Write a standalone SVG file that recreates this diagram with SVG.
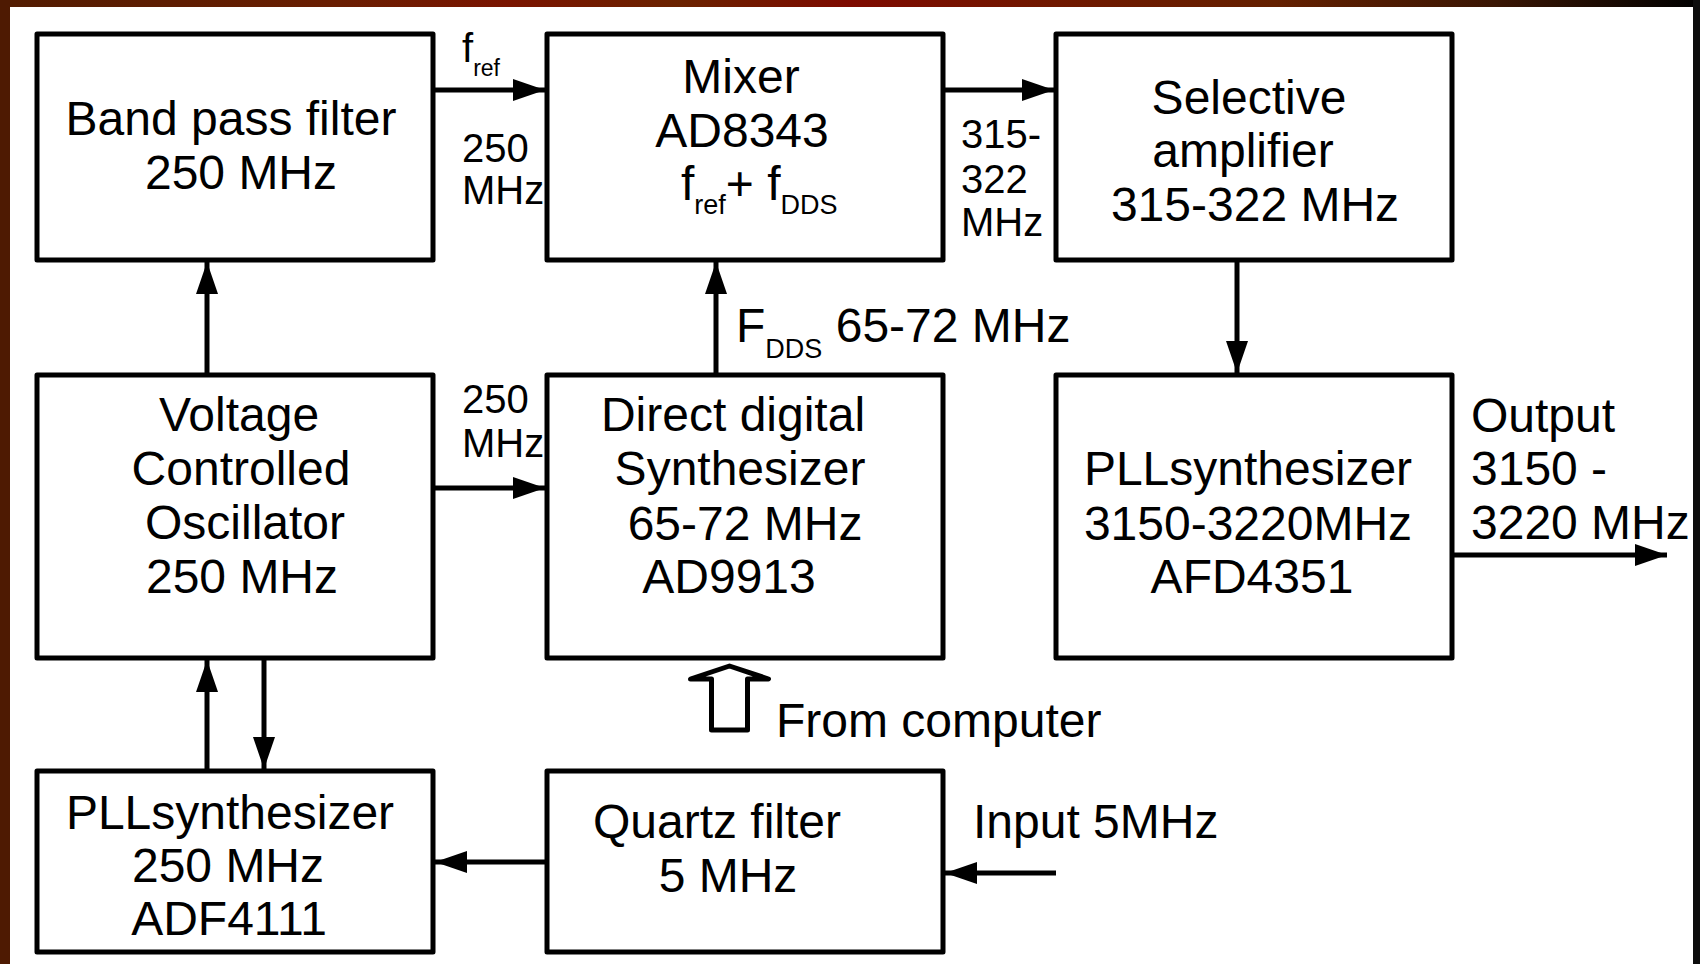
<svg xmlns="http://www.w3.org/2000/svg" width="1700" height="964" viewBox="0 0 1700 964">
<defs>
<linearGradient id="topband" x1="0" y1="0" x2="1" y2="0">
<stop offset="0" stop-color="#521c02"/>
<stop offset="0.2" stop-color="#6a1e02"/>
<stop offset="0.3" stop-color="#7a1400"/>
<stop offset="0.4" stop-color="#6a2200"/>
<stop offset="0.5" stop-color="#7e0a00"/>
<stop offset="0.62" stop-color="#701800"/>
<stop offset="0.75" stop-color="#642000"/>
<stop offset="0.88" stop-color="#3a1604"/>
<stop offset="1" stop-color="#000000"/>
</linearGradient>
<marker id="ah" markerUnits="userSpaceOnUse" markerWidth="34" markerHeight="24" refX="32" refY="11" orient="auto">
<path d="M0,0 L32,11 L0,22 z" fill="#000"/>
</marker>
</defs>
<style>
.box{fill:#fff;stroke:#000;stroke-width:5;stroke-linejoin:round}
.t{font-family:"Liberation Sans",Arial,sans-serif;font-size:48px;fill:#000}
.s{font-family:"Liberation Sans",Arial,sans-serif;font-size:40px;fill:#000}
.c{text-anchor:middle}
.conn{stroke:#000;stroke-width:5;fill:none;marker-end:url(#ah)}
</style>
<rect x="0" y="0" width="1700" height="964" fill="#fff"/>
<rect x="0" y="0" width="1700" height="7" fill="url(#topband)"/>
<rect x="0" y="0" width="10" height="964" fill="#4e1a02"/>
<rect x="1693" y="0" width="7" height="964" fill="#0d0d0d"/>

<g id="bpf">
<rect class="box" x="37" y="34" width="396" height="226"/>
<text class="t c" x="231" y="135">Band pass filter</text>
<text class="t c" x="241" y="189">250 MHz</text>
</g>
<g id="mixer">
<rect class="box" x="547" y="34" width="396" height="226"/>
<text class="t c" x="741" y="93">Mixer</text>
<text class="t c" x="742" y="147">AD8343</text>
<text class="t" x="681" y="200">f<tspan font-size="27" dy="14">ref</tspan><tspan dy="-14">+ f</tspan><tspan font-size="27" dy="14">DDS</tspan></text>
</g>
<g id="selamp">
<rect class="box" x="1056" y="34" width="396" height="226"/>
<text class="t c" x="1249" y="114">Selective</text>
<text class="t c" x="1243" y="167">amplifier</text>
<text class="t c" x="1255" y="221">315-322 MHz</text>
</g>
<g id="vco">
<rect class="box" x="37" y="375" width="396" height="283"/>
<text class="t c" x="239" y="431">Voltage</text>
<text class="t c" x="241" y="485">Controlled</text>
<text class="t c" x="245" y="539">Oscillator</text>
<text class="t c" x="242" y="593">250 MHz</text>
</g>
<g id="dds">
<rect class="box" x="547" y="375" width="396" height="283"/>
<text class="t c" x="733" y="431">Direct digital</text>
<text class="t c" x="740" y="485">Synthesizer</text>
<text class="t c" x="745" y="540">65-72 MHz</text>
<text class="t c" x="729" y="593">AD9913</text>
</g>
<g id="pll3150">
<rect class="box" x="1056" y="375" width="396" height="283"/>
<text class="t c" x="1248" y="485">PLLsynthesizer</text>
<text class="t c" x="1248" y="540">3150-3220MHz</text>
<text class="t c" x="1252" y="593">AFD4351</text>
</g>
<g id="pll250">
<rect class="box" x="37" y="771" width="396" height="181"/>
<text class="t c" x="230" y="829">PLLsynthesizer</text>
<text class="t c" x="228" y="882">250 MHz</text>
<text class="t c" x="229" y="935">ADF4111</text>
</g>
<g id="quartz">
<rect class="box" x="547" y="771" width="396" height="181"/>
<text class="t c" x="717" y="838">Quartz filter</text>
<text class="t c" x="728" y="892">5 MHz</text>
</g>

<g id="connectors">
<path class="conn" d="M433,90 H545"/>
<path class="conn" d="M943,90 H1054"/>
<path class="conn" d="M1237,260 V373"/>
<path class="conn" d="M716,375 V262"/>
<path class="conn" d="M207,375 V262"/>
<path class="conn" d="M433,488 H545"/>
<path class="conn" d="M207,771 V660"/>
<path class="conn" d="M264,658 V769"/>
<path class="conn" d="M547,862 H435"/>
<path class="conn" d="M1056,873 H945"/>
<path class="conn" d="M1452,555 H1667"/>
<polygon id="from-computer-arrow" points="729.5,666 768.5,679 747.5,679 747.5,730 711.5,730 711.5,679 690.5,679" fill="#fff" stroke="#000" stroke-width="5" stroke-linejoin="round"/>
</g>

<g id="labels">
<text class="s" x="462" y="62">f<tspan font-size="23" dy="14">ref</tspan></text>
<text class="s" x="462" y="162">250</text>
<text class="s" x="462" y="204">MHz</text>
<text class="s" x="961" y="148">315-</text>
<text class="s" x="961" y="193">322</text>
<text class="s" x="961" y="236">MHz</text>
<text class="t" x="736" y="342">F<tspan font-size="27" dy="16">DDS</tspan><tspan dy="-16"> 65-72 MHz</tspan></text>
<text class="s" x="462" y="413">250</text>
<text class="s" x="462" y="457">MHz</text>
<text class="t" x="1471" y="432">Output</text>
<text class="t" x="1471" y="485">3150 -</text>
<text class="t" x="1471" y="539">3220 MHz</text>
<text class="t" x="776" y="737">From computer</text>
<text class="t" x="973" y="838">Input 5MHz</text>
</g>
</svg>
